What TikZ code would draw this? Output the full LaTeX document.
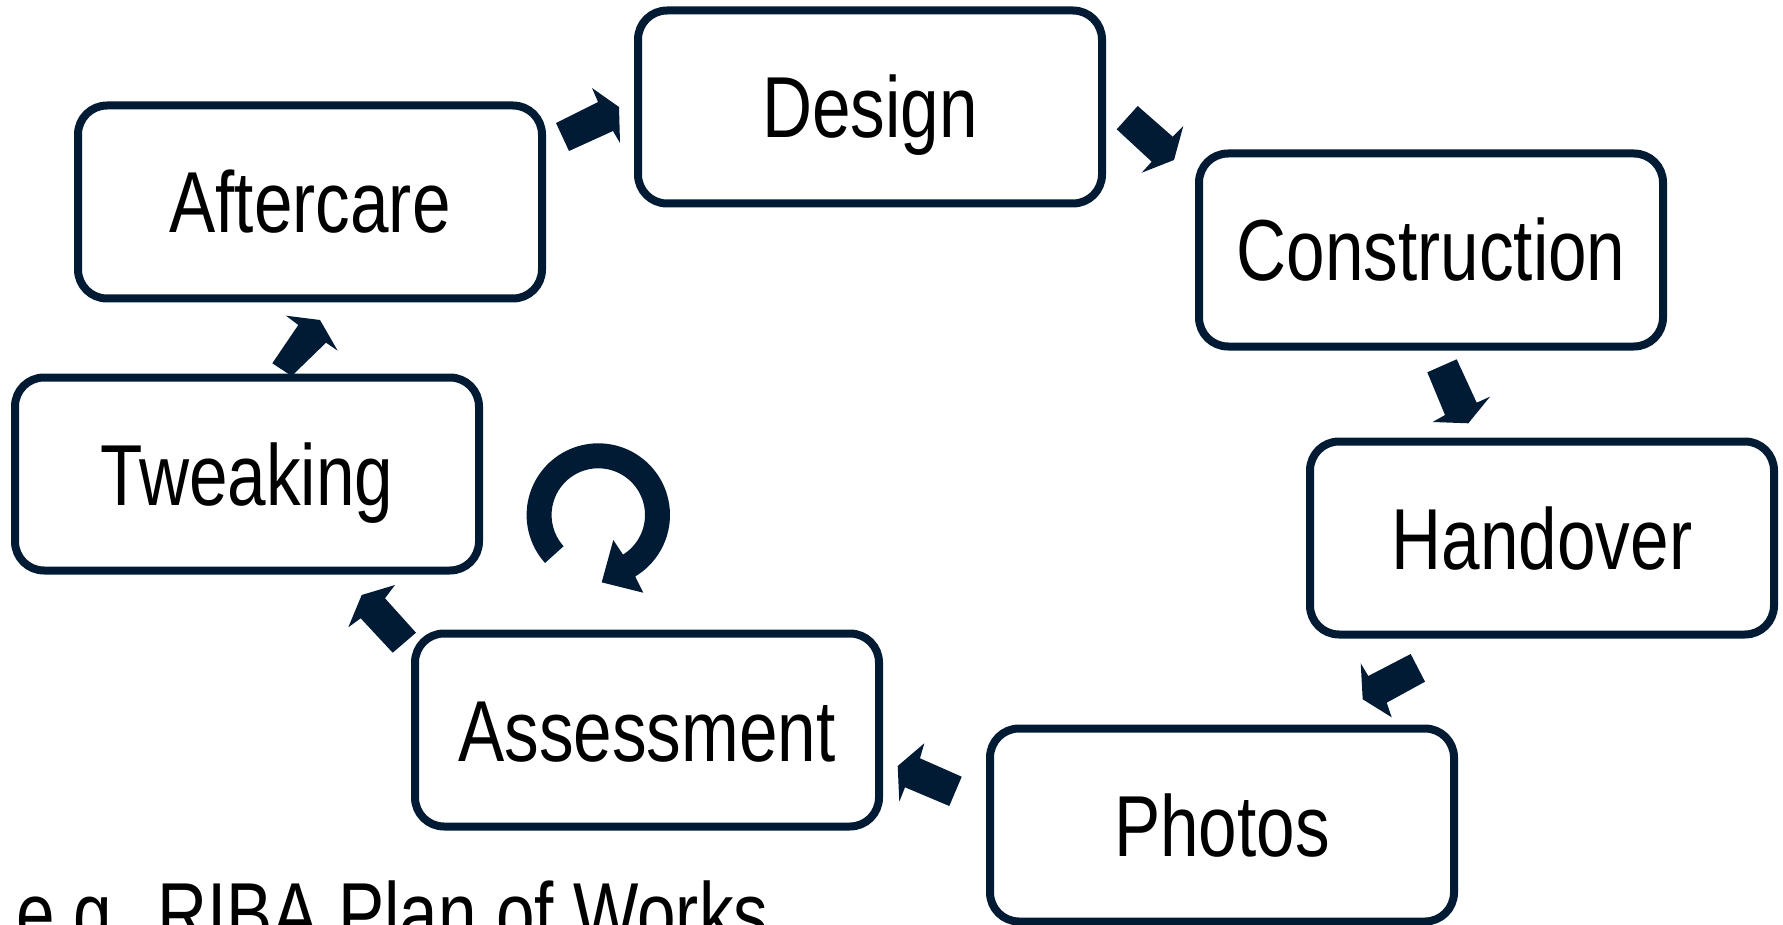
\documentclass[tikz,border=0pt]{standalone}
\usepackage{fontspec}
\newfontfamily\labfont[FakeStretch=0.8]{Liberation Sans}
\definecolor{navy}{RGB}{1,27,52}
\tikzset{
  stagebox/.style={draw=navy, fill=white, line width=8pt, rounded corners=29pt,
    minimum width=464pt, minimum height=193pt, inner sep=0pt,
    text height=62pt, text depth=0pt,
    font=\labfont\fontsize{86.6pt}{100pt}\selectfont},
  blockarrow/.style={fill=navy, draw=none},
  note/.style={font=\labfont\fontsize{86.6pt}{100pt}\selectfont, inner sep=0pt, anchor=base west}
}
\begin{document}
\begin{tikzpicture}[x=1pt,y=-1pt]
\useasboundingbox (0,0) rectangle (1783,925);
% stages
\node[stagebox] (design) at (870,107) {Design};
\node[stagebox] (construction) at (1431,250) {Construction};
\node[stagebox] (handover) at (1542,538) {Handover};
\node[stagebox] (photos) at (1222,825) {Photos};
\node[stagebox] (assessment) at (647,730) {Assessment};
\node[stagebox] (tweaking) at (247,474) {Tweaking};
\node[stagebox] (aftercare) at (310,202) {Aftercare};
% block arrows
\fill[blockarrow] (556,123) -- (598,102) -- (592,88) -- (619,107) -- (620,143) -- (613,131) -- (569,151) -- cycle;
\fill[blockarrow] (1137.7,106) -- (1172.7,136.7) -- (1183.3,126) -- (1174,160) -- (1141.7,172.7) -- (1151.7,161.7) -- (1116.7,129.3) -- cycle;
\fill[blockarrow] (1427.3,372.3) -- (1456.7,359.3) -- (1476.7,402.7) -- (1490,396.7) -- (1468.3,423.3) -- (1432.7,422) -- (1445,415) -- cycle;
\fill[blockarrow] (1410.7,654) -- (1425,681.7) -- (1386.7,702.7) -- (1391.7,717.3) -- (1362.7,699.3) -- (1360.7,663.3) -- (1368.3,676) -- cycle;
\fill[blockarrow] (961.7,776.7) -- (949.3,806) -- (905,787.3) -- (899.3,801.7) -- (897.7,766) -- (924.3,743.3) -- (920,758.3) -- cycle;
\fill[blockarrow] (392.7,652.7) -- (416,632.7) -- (385,598.3) -- (395,585) -- (361.7,595) -- (348.3,627.3) -- (360.7,618.3) -- cycle;
\fill[blockarrow] (272.3,363.3) -- (298.3,325) -- (286,315.7) -- (320,320) -- (337.7,350.7) -- (326,342.7) -- (291.7,376) -- cycle;
% circular arrow
\fill[blockarrow] plot[domain=138:419, samples=80] ({598.3+71.7*cos(\x)},{515+71.7*sin(\x)})
  -- (643.3,592.7) -- (601.7,582.3) -- (613.3,540)
  -- plot[domain=418:138, samples=80] ({598.3+46.7*cos(\x)},{515+46.7*sin(\x)}) -- cycle;
% note (cut off at the bottom edge, as in the reference)
\node[note] (riba) at (16,943) {e.g. RIBA Plan of Works};
\end{tikzpicture}
\end{document}
